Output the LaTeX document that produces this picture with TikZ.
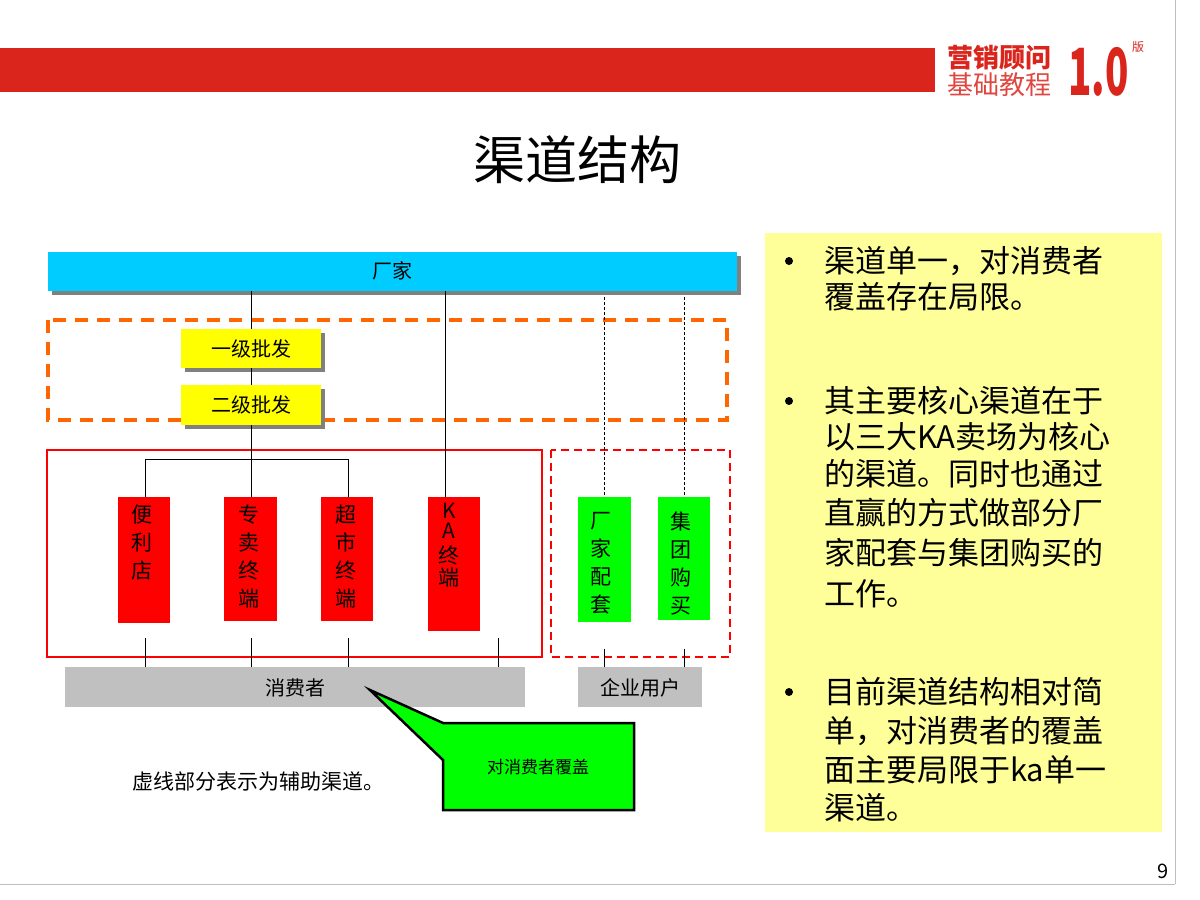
\documentclass[tikz,border=0pt]{standalone}
\usepackage{fontspec}
\setmainfont{Noto Sans CJK SC}
\usetikzlibrary{positioning}
\definecolor{hdrred}{RGB}{218,37,29}
\definecolor{skyb}{RGB}{0,204,255}
\definecolor{ylw}{RGB}{255,255,0}
\definecolor{panel}{RGB}{255,255,153}
\definecolor{grn}{RGB}{0,255,0}
\definecolor{org}{RGB}{255,102,0}
\definecolor{gry}{RGB}{192,192,192}
\tikzset{
 px/.style={x=1pt,y=-1pt},
 vbox/.style={align=center, font=\fontsize{21}{28}\selectfont, inner sep=0pt},
 thin/.style={line width=0.8pt, black},
 dline/.style={line width=0.8pt, black, dash pattern=on 3pt off 2pt},
 bullettxt/.style={anchor=west, font=\fontsize{31}{34}\selectfont, inner sep=0pt},
}
\begin{document}
\begin{tikzpicture}[px]
\useasboundingbox (0,0) rectangle (1200,900);
\fill[white] (0,0) rectangle (1200,900);
\draw[gray!50, line width=0.8pt] (0,884) -- (1175,884);
\draw[gray!50, line width=0.8pt] (1175,0) -- (1175,884);
% header
\fill[hdrred] (0,48) rectangle (935,92);
\node[font=\bfseries\fontsize{26}{26}\selectfont, text=hdrred, anchor=west, inner sep=0pt] (logo1) at (947,58) {营销顾问};
\node[font=\fontsize{26}{26}\selectfont, text=hdrred!85, anchor=west, inner sep=0pt] (logo2) at (947,85) {基础教程};
\node[font=\bfseries\fontsize{62}{62}\selectfont, text=hdrred, anchor=west, inner sep=0pt, xscale=0.62, yscale=1.05] (logo3) at (1068,72) {1.0};
\node[font=\fontsize{12}{12}\selectfont, text=hdrred, inner sep=0pt] (logo4) at (1138,47) {版};
% title
\node[font=\fontsize{52}{52}\selectfont] (title) at (577,160) {渠道结构};
% right panel
\fill[panel] (765,233) rectangle (1162,832);
\foreach \y in {261,401,692} \fill (789,\y) circle (4pt);
\node[bullettxt] (b11) at (824,261) {渠道单一，对消费者};
\node[bullettxt] (b12) at (824,297) {覆盖存在局限。};
\node[bullettxt] (b21) at (824,401) {其主要核心渠道在于};
\node[bullettxt] (b22) at (824,437) {以三大KA卖场为核心};
\node[bullettxt] (b23) at (824,474) {的渠道。同时也通过};
\node[bullettxt] (b24) at (824,513) {直赢的方式做部分厂};
\node[bullettxt] (b25) at (824,553) {家配套与集团购买的};
\node[bullettxt] (b26) at (824,594) {工作。};
\node[bullettxt] (b31) at (824,692) {目前渠道结构相对简};
\node[bullettxt] (b32) at (824,731) {单，对消费者的覆盖};
\node[bullettxt] (b33) at (824,770) {面主要局限于ka单一};
\node[bullettxt] (b34) at (824,808) {渠道。};
% dashed groups
\draw[org, line width=3.5pt, dash pattern=on 13pt off 9pt] (48,320) rectangle (727,420);
\draw[red, line width=2pt] (47,450) rectangle (542,657);
\draw[red, line width=2pt, dash pattern=on 8pt off 5pt] (551,450) rectangle (730,657);
% blue bar
\fill[gray] (52,256) rectangle (741,295);
\fill[skyb] (48,252) rectangle (737,291);
\node[font=\fontsize{20}{20}\selectfont] (cj) at (392,271) {厂家};
% yellow
\fill[gray] (185,333) rectangle (325,372);
\fill[ylw] (181,329) rectangle (321,368);
\node[font=\fontsize{20}{20}\selectfont] (w1) at (251,349) {一级批发};
\fill[gray] (185,389) rectangle (325,429);
\fill[ylw] (181,385) rectangle (321,425);
\node[font=\fontsize{20}{20}\selectfont] (w2) at (251,405) {二级批发};
\coordinate (w1t) at (251,329);
\coordinate (w2b) at (251,425);
\coordinate (w2t) at (251,368);
\coordinate (w1b) at (251,385);
% red boxes
\fill[red] (118,497) rectangle (170,623);
\node[vbox, anchor=north] (s1) at (142,505) {便\\利\\店};
\fill[red] (224,497) rectangle (277,621);
\node[vbox, anchor=north] (s2) at (249,505) {专\\卖\\终\\端};
\fill[red] (321,497) rectangle (373,621);
\node[vbox, anchor=north] (s3) at (346,505) {超\\市\\终\\端};
\fill[red] (428,497) rectangle (480,631);
\node[vbox, anchor=north, font=\fontsize{21}{22}\selectfont] (s4) at (449,503) {K\\[-2pt]A\\[3pt]终\\端};
% green boxes
\fill[grn] (578,497) rectangle (631,622);
\node[vbox, anchor=north] (g1) at (601,512) {厂\\家\\配\\套};
\fill[grn] (658,497) rectangle (710,620);
\node[vbox, anchor=north] (g2) at (681,512) {集\\团\\购\\买};
% gray bars
\fill[gry] (65,667) rectangle (525,707);
\node[font=\fontsize{20}{20}\selectfont] (xf) at (295,688) {消费者};
\fill[gry] (578,667) rectangle (702,707);
\node[font=\fontsize{20}{20}\selectfont] (qy) at (640,688) {企业用户};
% connectors
\draw[thin] (251,291) -- (w1t);
\draw[thin] (w2t) -- (w1b);
\draw[thin] (w2b) -- (251,497);
\draw[thin] (145,497) -- (145,459) -- (348,459) -- (348,497);
\draw[thin] (445,291) -- (445,497);
\draw[dline] (604,297) -- (604,497);
\draw[dline] (684,297) -- (684,497);
\foreach \x in {145,251,348,498} \draw[thin] (\x,638) -- (\x,667);
\foreach \x in {604,684} \draw[thin] (\x,649) -- (\x,667);
% callout
\draw[black, line width=2.5pt, fill=grn] (443,723) -- (370,690) -- (443,760) -- (443,810) -- (634,810) -- (634,723) -- cycle;
\node[font=\fontsize{17}{17}\selectfont] (co) at (538,767) {对消费者覆盖};
\node[font=\fontsize{21}{21}\selectfont] (note) at (258,781) {虚线部分表示为辅助渠道。};
\node[font=\fontsize{20}{20}\selectfont] (pg) at (1163,871) {9};
\end{tikzpicture}
\end{document}
